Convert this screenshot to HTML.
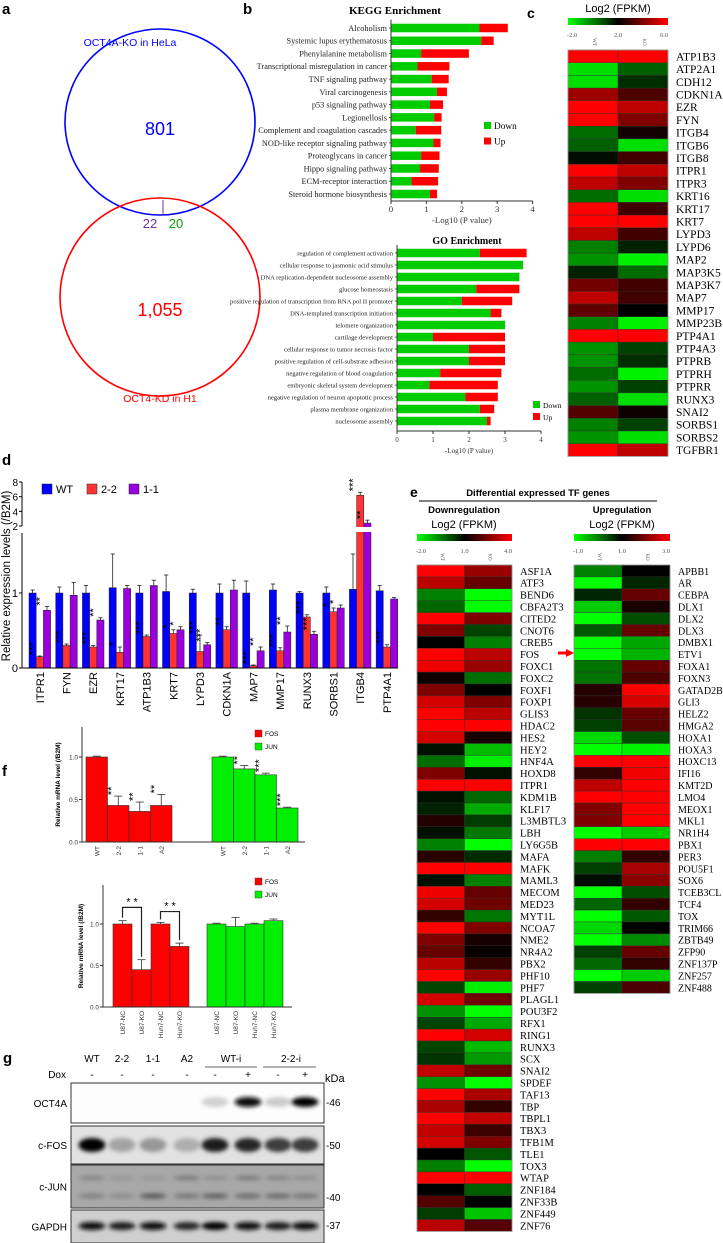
<!DOCTYPE html>
<html><head><meta charset="utf-8"><style>
body{margin:0;background:#fff}
svg{display:block}
.s{font-family:"Liberation Sans",sans-serif}
.r{font-family:"Liberation Serif",serif}
</style></head><body>
<svg id="fig" width="723" height="1243" viewBox="0 0 723 1243" xmlns="http://www.w3.org/2000/svg">
<defs>
<linearGradient id="cbar" x1="0" x2="1"><stop offset="0" stop-color="#00ff00"/><stop offset="0.5" stop-color="#000"/><stop offset="1" stop-color="#ff0000"/></linearGradient>
<filter id="blur" x="-50%" y="-100%" width="200%" height="300%"><feGaussianBlur stdDeviation="2"/></filter>
</defs>
<g id="panelA">
<text class="s" x="2" y="14" font-size="15" font-weight="bold">a</text>
<ellipse cx="160" cy="122" rx="95" ry="93" fill="none" stroke="#0000ff" stroke-width="1.6"/>
<ellipse cx="160" cy="297" rx="100" ry="99" fill="none" stroke="#ff0000" stroke-width="1.6"/>
<line x1="163" y1="200" x2="163" y2="215" stroke="#7030a0" stroke-width="1"/>
<text class="s" x="130" y="46" font-size="10.5" fill="#0000ff" text-anchor="middle">OCT4A-KO in HeLa</text>
<text class="s" x="160" y="135" font-size="18" fill="#0000ff" text-anchor="middle">801</text>
<text class="s" x="150" y="228" font-size="13" fill="#7030a0" text-anchor="middle">22</text>
<text class="s" x="176" y="228" font-size="13" fill="#00a000" text-anchor="middle">20</text>
<text class="s" x="160" y="316" font-size="18" fill="#ff0000" text-anchor="middle">1,055</text>
<text class="s" x="160" y="402" font-size="10.5" fill="#ff0000" text-anchor="middle">OCT4-KD in H1</text>
</g>
<text class="s" x="243" y="14" font-size="15" font-weight="bold">b</text>
<text class="r" x="395" y="14" font-size="11" font-weight="bold" text-anchor="middle">KEGG Enrichment</text>
<text class="r" x="467" y="244" font-size="10" font-weight="bold" text-anchor="middle">GO Enrichment</text>
<g id="kegg"></g>
<g id="go"></g>
<text class="s" x="527" y="18" font-size="14" font-weight="bold">c</text>
<g id="heatC"></g>
<text class="s" x="2" y="465" font-size="15" font-weight="bold">d</text>
<g id="barD"></g>
<text class="s" x="410" y="497" font-size="14" font-weight="bold">e</text>
<text class="s" x="538" y="496" font-size="9.5" font-weight="bold" text-anchor="middle">Differential expressed TF genes</text>
<line x1="419" y1="501" x2="657" y2="501" stroke="#000" stroke-width="1"/>
<text class="s" x="464" y="513" font-size="9.5" font-weight="bold" text-anchor="middle">Downregulation</text>
<text class="s" x="622" y="513" font-size="9.5" font-weight="bold" text-anchor="middle">Upregulation</text>
<g id="heatDown"></g>
<g id="heatUp"></g>
<path d="M574 653 L566 649 L566 651.5 L558 651.5 L558 654.5 L566 654.5 L566 657 Z" fill="#ff0000"/>
<text class="s" x="2" y="776" font-size="15" font-weight="bold">f</text>
<g id="barF1"></g>
<g id="barF2"></g>
<text class="s" x="3" y="1063" font-size="15" font-weight="bold">g</text>
<g id="blot"></g>
</svg>
<script>
// ---------- data ----------
const keggTerms=["Alcoholism","Systemic lupus erythematosus","Phenylalanine metabolism","Transcriptional misregulation in cancer","TNF signaling pathway","Viral carcinogenesis","p53 signaling pathway","Legionellosis","Complement and coagulation cascades","NOD-like receptor signaling pathway","Proteoglycans in cancer","Hippo signaling pathway","ECM-receptor interaction","Steroid hormone biosynthesis"];
const keggDown=[2.5,2.55,0.85,0.75,1.15,1.3,1.1,1.22,0.7,1.2,0.85,0.82,0.58,1.1];
const keggUp=[0.8,0.35,1.35,0.9,0.48,0.28,0.37,0.21,0.72,0.2,0.52,0.53,0.75,0.2];
const goTerms=["regulation of complement activation","cellular response to jasmonic acid stimulus","DNA replication-dependent nucleosome assembly","glucose homeostasis","positive regulation of transcription from RNA pol II promoter","DNA-templated transcription initiation","telomere organization","cartilage development","cellular response to tumor necrosis factor","positive regulation of cell-substrate adhesion","negative regulation of blood coagulation","embryonic skeletal system development","negative regulation of neuron apoptotic process","plasma membrane organization","nucleosome assembly"];
const goDown=[2.3,3.5,3.4,2.2,1.8,2.6,3.0,1.0,2.0,2.0,1.2,0.9,1.9,2.3,2.5];
const goUp=[1.3,0,0,1.2,1.4,0.3,0,2.0,1.0,1.0,1.7,1.9,0.9,0.4,0.1];
const axisTicks=[0,1,2,3,4];

const cGenes=["ATP1B3","ATP2A1","CDH12","CDKN1A","EZR","FYN","ITGB4","ITGB6","ITGB8","ITPR1","ITPR3","KRT16","KRT17","KRT7","LYPD3","LYPD6","MAP2","MAP3K5","MAP3K7","MAP7","MMP17","MMP23B","PTP4A1","PTP4A3","PTPRB","PTPRH","PTPRR","RUNX3","SNAI2","SORBS1","SORBS2","TGFBR1"];
const cWT=[6,-1.5,-1.5,4.5,6,6,0.3,0.5,1.8,6,5,0.3,6,6,5,0,-0.3,1.5,3.8,5,3.5,0,6,-0.3,-0.3,0.3,-0.3,0.5,3.3,0,-0.3,6];
const cKO=[6,0.5,1.3,3.2,5,4,2.3,-1.5,3,5,4,-1.5,3,6,3,1.5,-1.8,0.3,3,3,2,-1.8,6,1,1.3,-1.8,1,-1.5,2.2,1,-1.5,5];
const cScale=["-2.0","2.0","6.0"];

const dGenes=["ITPR1","FYN","EZR","KRT17","ATP1B3","KRT7","LYPD3","CDKN1A","MAP7","MMP17","RUNX3","SORBS1","ITGB4","PTP4A1"];
const dWT=[1.0,1.0,1.0,1.07,1.0,1.02,1.0,1.0,1.0,1.04,1.0,1.0,1.05,1.03];
const dKO22=[0.15,0.3,0.28,0.21,0.42,0.46,0.22,0.51,0.03,0.23,0.68,0.75,6.2,0.28];
const dKO11=[0.77,0.97,0.64,1.06,1.1,0.51,0.31,1.04,0.23,0.48,0.45,0.8,2.4,0.92];
const dErrWT=[0.04,0.08,0.1,0.45,0.1,0.22,0.05,0.12,0.16,0.08,0.02,0.08,0.47,0.07];
const dErr22=[0.01,0.02,0.02,0.07,0.02,0.05,0.22,0.04,0.01,0.04,0.03,0.05,0.4,0.03];
const dErr11=[0.05,0.17,0.03,0.04,0.07,0.04,0.03,0.13,0.05,0.08,0.04,0.04,0.4,0.02];
const dStar22=[3,3,3,1,3,1,3,2,3,3,3,1,3,3];
const dStar11=[2,0,2,0,0,1,3,0,2,2,3,1,2,0];
const dTicksLow=[0,1];
const dTicksHigh=[2,4,6,8];

const downGenes=["ASF1A","ATF3","BEND6","CBFA2T3","CITED2","CNOT6","CREB5","FOS","FOXC1","FOXC2","FOXF1","FOXP1","GLIS3","HDAC2","HES2","HEY2","HNF4A","HOXD8","ITPR1","KDM1B","KLF17","L3MBTL3","LBH","LY6G5B","MAFA","MAFK","MAML3","MECOM","MED23","MYT1L","NCOA7","NME2","NR4A2","PBX2","PHF10","PHF7","PLAGL1","POU3F2","RFX1","RING1","RUNX3","SCX","SNAI2","SPDEF","TAF13","TBP","TBPL1","TBX3","TFB1M","TLE1","TOX3","WTAP","ZNF184","ZNF33B","ZNF449","ZNF76"];
const downWT=[4,3.2,-0.5,-0.2,4,2.5,1,4,3.8,1.2,2.5,3.5,4,4,3.5,0.8,-0.3,2.5,4,0.8,0.6,1.4,0.8,-0.5,1.5,4,0.8,3.8,3.5,1.6,4,2.5,2.2,3.2,4,0.2,3.5,-0.7,0.2,4,0.2,0.4,3.3,-0.7,4,3,4,3.3,3.5,1,-0.5,4,1,2,0.3,3.2];
const downKO=[2.8,2.2,-2,-2,2.5,0.2,-0.5,3.2,2.8,-0.3,1,2.5,3.2,4,1.3,-1.2,-1.8,0.8,4,-0.2,-1,0.3,-0.4,-2,0.5,4,-0.5,2.2,2.3,-0.4,2.5,1.3,1.1,1.6,2.8,-1.8,2.3,-2,-1,3.5,-1.2,-0.8,2.3,-2,3,1.6,3.3,1.7,2.5,0,-2,4,-0.1,1,-1.3,2];
const downScale=["-2.0","1.0","4.0"];
const upGenes=["APBB1","AR","CEBPA","DLX1","DLX2","DLX3","DMBX1","ETV1","FOXA1","FOXN3","GATAD2B","GLI3","HELZ2","HMGA2","HOXA1","HOXA3","HOXC13","IFI16","KMT2D","LMO4","MEOX1","MKL1","NR1H4","PBX1","PER3","POU5F1","SOX6","TCEB3CL","TCF4","TOX","TRIM66","ZBTB49","ZFP90","ZNF137P","ZNF257","ZNF488"];
const upWT=[0,-1,0.7,-0.6,-1,0.3,-1,-1,0.1,0.1,1.3,1.3,0.6,0.5,-0.7,-1,3,1.4,2.5,3,2,2,-1,3,0,0.5,0.9,-1,0.2,-1,-0.7,-1,0.5,0.2,-1,0.5];
const upKO=[1,0.7,1.8,1.2,0.4,1.8,-0.3,-0.4,1.8,1.6,3,2.7,1.8,1.7,0.4,-0.9,3,2.9,3,3,3,3,-0.6,3,1.4,2.3,2.1,0.4,1.4,0.3,1,-0.1,1.8,1.4,-0.6,1.6];
const upScale=["-1.0","1.0","3.0"];

const f1Labels=["WT","2-2","1-1","A2"];
const f1Fos=[1.0,0.43,0.36,0.43];
const f1Jun=[1.0,0.86,0.79,0.40];
const f1FosErr=[0.01,0.11,0.11,0.13];
const f1JunErr=[0.01,0.04,0.02,0.01];
const f1FosStar=["","**","**","**"];
const f1JunStar=["","**","***","***"];
const f2Labels=["U87-NC","U87-KO","Huh7-NC","Huh7-KO"];
const f2Fos=[1.0,0.45,1.0,0.73];
const f2Jun=[1.0,0.97,1.0,1.04];
const f2FosErr=[0.04,0.12,0.02,0.04];
const f2JunErr=[0.01,0.11,0.01,0.02];
const fTicks=[0,0.5,1.0];

const doxSigns=["-","-","-","-","-","+","-","+"];
const oct4=[0,0,0,0,0.1,0.95,0.12,1.0];
const cfos=[1.0,0.3,0.35,0.25,0.9,0.85,0.75,0.75];
const cjunUpper=[0.45,0.35,0.35,0.5,0.4,0.5,0.45,0.4];
const cjunLower=[0.45,0.4,0.65,0.5,0.6,0.55,0.55,0.5];
const gapdh=[0.95,0.9,0.95,0.85,1.0,0.95,0.9,0.95];
const blotRows=["OCT4A","c-FOS","c-JUN","GAPDH"];
const kdaLabels=["-46","-50","-40","-37"];

// ---------- helpers ----------
const NS="http://www.w3.org/2000/svg";
function mk(parent,tag,attrs,text){const e=document.createElementNS(NS,tag);for(const k in attrs)e.setAttribute(k,attrs[k]);if(text!==undefined)e.textContent=text;parent.appendChild(e);return e;}
function heatColor(v,lo,hi){let t=(v-lo)/(hi-lo);t=Math.max(0,Math.min(1,t));if(t<0.5){return "rgb(0,"+Math.round(255*(1-2*t))+",0)";}return "rgb("+Math.round(255*(2*t-1))+",0,0)";}

// ---------- enrichment bars ----------
function enrich(gid,terms,down,up,x0,px,y0,dy,bh,fs,axY,legX,legY,legGap){
  const g=document.getElementById(gid);
  const xs=v=>x0+v*px;
  terms.forEach((t,i)=>{
    const y=y0+i*dy;
    let r=mk(g,'rect',{x:xs(0),y:y-bh/2,width:down[i]*px,height:bh,fill:'#00cc00'});
    
    r=mk(g,'rect',{x:xs(down[i]),y:y-bh/2,width:up[i]*px,height:bh,fill:'#ff0000'});
    
    const tx=mk(g,'text',{x:x0-4,y:y+fs*0.35,'font-size':fs,'text-anchor':'end','class':'r',fill:'#222'},t);
    
    mk(g,'line',{x1:x0-2,x2:x0,y1:y,y2:y,stroke:'#333','stroke-width':0.8});
  });
  mk(g,'line',{x1:x0,x2:x0,y1:y0-dy/2-2,y2:axY,stroke:'#333','stroke-width':1});
  mk(g,'line',{x1:x0,x2:xs(4),y1:axY,y2:axY,stroke:'#333','stroke-width':1});
  axisTicks.forEach(v=>{mk(g,'line',{x1:xs(v),x2:xs(v),y1:axY,y2:axY+3,stroke:'#333'});
    const t=mk(g,'text',{x:xs(v),y:axY+11,'font-size':fs+0.5,'text-anchor':'middle','class':'r',fill:'#333'},v);
    });
  const xl=mk(g,'text',{x:xs(2),y:axY+22,'font-size':fs+0.5,'text-anchor':'middle','class':'r',fill:'#333'},'-Log10 (P value)');
  
  [['#00cc00','Down'],['#ff0000','Up']].forEach((d,i)=>{
    const r=mk(g,'rect',{x:legX,y:legY+i*legGap-4,width:7,height:7,fill:d[0]});
    
    const t=mk(g,'text',{x:legX+10,y:legY+i*legGap+3,'font-size':fs+1,'class':'r'},d[1]);
    
  });
}
enrich('kegg',keggTerms,keggDown,keggUp,391,35.4,28,12.77,8.5,8.3,201,484,126,15.5);
enrich('go',goTerms,goDown,goUp,397,36,253,12,8.5,6.6,431,533,405,12);

// ---------- heatmaps ----------
function heat(gid,genes,wt,ko,lo,hi,x,w,y0,rh,scale,titleX,titleY,labFs){
  const g=document.getElementById(gid);
  const t=mk(g,'text',{x:titleX,y:titleY,'font-size':11,'text-anchor':'middle','class':'s'},'Log2 (FPKM)');
  
  const cb=mk(g,'rect',{x:x,y:titleY+6,width:w*2,height:7,fill:'url(#cbar)'});
  
  scale.forEach((s,i)=>{const tt=mk(g,'text',{x:x+4+i*(w*2-8)/2,y:titleY+25,'font-size':6.5,'text-anchor':'middle','class':'r',fill:'#555'},s);
    });
  ['WT','KO'].forEach((s,i)=>{const tt=mk(g,'text',{x:0,y:0,'font-size':5,'text-anchor':'middle','class':'r',fill:'#555',transform:'translate('+(x+w/2+i*w)+','+(y0-8)+') rotate(90)'},s);
    });
  genes.forEach((gn,i)=>{
    const y=y0+i*rh;
    let r=mk(g,'rect',{x:x,y:y,width:w,height:rh,fill:heatColor(wt[i],lo,hi),stroke:'#333','stroke-width':0.4});
    
    r=mk(g,'rect',{x:x+w,y:y,width:w,height:rh,fill:heatColor(ko[i],lo,hi),stroke:'#333','stroke-width':0.4});
    
    const tx=mk(g,'text',{x:x+2*w+8,y:y+rh*0.82,'font-size':labFs,'class':'r'},gn);
    
  });
  mk(g,'rect',{x:x,y:y0,width:2*w,height:genes.length*rh,fill:'none',stroke:'#999','stroke-width':0.8});
}
heat('heatC',cGenes,cWT,cKO,-2,6,568,50,50,12.7,cScale,618,12,11.5);
heat('heatDown',downGenes,downWT,downKO,-2,4,417,47.5,565,11.9,downScale,464,528,10.5);
heat('heatUp',upGenes,upWT,upKO,-1,3,574,48,565,11.9,upScale,622,528,10);

// ---------- panel d ----------
(function(){
  const g=document.getElementById('barD');
  const ax=22,x0=29,gw=26.7,bw=7.2;
  const yLow=v=>668-75*v, yHigh=v=>526-(v-2)*7.33;
  const yv=v=>v<=1.8?yLow(v):yHigh(v);
  const series=[[dWT,dErrWT,'#0000ff',null],[dKO22,dErr22,'#ff3333',dStar22],[dKO11,dErr11,'#9900dd',dStar11]];
  dGenes.forEach((gn,i)=>{
    series.forEach((s,j)=>{
      const v=s[0][i],bx=x0+i*gw+j*bw;
      let r=mk(g,'rect',{x:bx,y:yv(v),width:bw,height:668-yv(v),fill:s[2],stroke:'#222','stroke-width':0.5});
      
      if(v>1.8){mk(g,'rect',{x:bx-1,y:527,width:bw+2,height:5,fill:'#fff'});}
      const te=yv(v+s[1][i]);
      mk(g,'line',{x1:bx+bw/2,x2:bx+bw/2,y1:yv(v),y2:te,stroke:'#222','stroke-width':0.8});
      mk(g,'line',{x1:bx+1.5,x2:bx+bw-1.5,y1:te,y2:te,stroke:'#222','stroke-width':0.8});
      if(s[3]&&s[3][i]>0){const st=mk(g,'text',{x:0,y:0,'font-size':11,'class':'s','text-anchor':'start',transform:'translate('+(bx+bw/2-3.5)+','+(te-1)+') rotate(-90)'},'*'.repeat(s[3][i]));
        }
    });
    const lb=mk(g,'text',{x:0,y:0,'font-size':11,'class':'s','text-anchor':'end',transform:'translate('+(x0+i*gw+bw*1.5+4)+',672) rotate(-90)'},gn);
    
  });
  mk(g,'line',{x1:ax,x2:ax,y1:668,y2:533,stroke:'#000','stroke-width':1});
  mk(g,'line',{x1:ax,x2:ax,y1:526,y2:482,stroke:'#000','stroke-width':1});
  mk(g,'line',{x1:ax,x2:398,y1:668,y2:668,stroke:'#000','stroke-width':1});
  dTicksLow.forEach(v=>{mk(g,'line',{x1:ax-3,x2:ax,y1:yLow(v),y2:yLow(v),stroke:'#000'});
    const t=mk(g,'text',{x:ax-4,y:yLow(v)+4,'font-size':11,'class':'s','text-anchor':'end'},v);});
  dTicksHigh.forEach(v=>{mk(g,'line',{x1:ax-3,x2:ax,y1:yHigh(v),y2:yHigh(v),stroke:'#000'});
    const t=mk(g,'text',{x:ax-4,y:yHigh(v)+4,'font-size':10,'class':'s','text-anchor':'end'},v);});
  const yt=mk(g,'text',{x:0,y:0,'font-size':11.5,'class':'s','text-anchor':'middle',transform:'translate(10,576) rotate(-90)'},'Relative expression levels (/B2M)');
  
  [['#0000ff','WT',42],['#ff3333','2-2',87],['#9900dd','1-1',129]].forEach(d=>{
    const r=mk(g,'rect',{x:d[2],y:484,width:10,height:10,fill:d[0],stroke:'#222','stroke-width':0.5});
    const t=mk(g,'text',{x:d[2]+14,y:493,'font-size':11,'class':'s'},d[1]);});
})();

// ---------- panel f ----------
function fchart(gid,labels,fos,jun,fe,je,fstar,jstar,ax,y0,ppu,top,rx,gx,bw,axEnd,legY,legGap,titleX,brackets){
  const g=document.getElementById(gid);
  const y=v=>y0-v*ppu;
  [[fos,fe,'#ff0000',rx,fstar],[jun,je,'#00ee00',gx,jstar]].forEach(s=>{
    s[0].forEach((v,i)=>{
      const bx=s[3]+i*bw;
      const r=mk(g,'rect',{x:bx,y:y(v),width:bw,height:v*ppu,fill:s[2],stroke:'#333','stroke-width':0.6});
      
      const te=y(v+s[1][i]);
      mk(g,'line',{x1:bx+bw/2,x2:bx+bw/2,y1:y(v),y2:te,stroke:'#333','stroke-width':0.8});
      mk(g,'line',{x1:bx+bw/2-4,x2:bx+bw/2+4,y1:te,y2:te,stroke:'#333','stroke-width':0.8});
      if(s[4]&&s[4][i]){const st=mk(g,'text',{x:0,y:0,'font-size':11,'class':'s',transform:'translate('+(bx+bw/2-3.5)+','+(te-1)+') rotate(-90)'},s[4][i]);
        }
      const lb=mk(g,'text',{x:0,y:0,'font-size':6.5,'class':'s','text-anchor':'end',fill:'#333',transform:'translate('+(bx+bw/2+2.5)+','+(y0+4)+') rotate(-90)'},labels[i]);
      
    });
  });
  mk(g,'line',{x1:ax,x2:ax,y1:top,y2:y0,stroke:'#333','stroke-width':1});
  mk(g,'line',{x1:ax,x2:axEnd,y1:y0,y2:y0,stroke:'#333','stroke-width':1});
  fTicks.forEach(v=>{mk(g,'line',{x1:ax-3,x2:ax,y1:y(v),y2:y(v),stroke:'#333'});
    const t=mk(g,'text',{x:ax-4,y:y(v)+2.5,'font-size':6.5,'class':'s','text-anchor':'end',fill:'#333'},v.toFixed(1));});
  const yt=mk(g,'text',{x:0,y:0,'font-size':6.5,'font-weight':'bold','class':'s','text-anchor':'middle',transform:'translate('+titleX+','+((top+y0)/2)+') rotate(-90)'},'Relative mRNA level (/B2M)');
  
  [['#ff0000','FOS'],['#00ee00','JUN']].forEach((d,i)=>{
    const r=mk(g,'rect',{x:255,y:legY+i*legGap-6,width:7,height:7,fill:d[0],stroke:'#333','stroke-width':0.4});
    const t=mk(g,'text',{x:265,y:legY+i*legGap,'font-size':6.5,'class':'s'},d[1]);});
  if(brackets){brackets.forEach(b=>{
    const xa=rx+b[0]*bw+bw/2, xb=rx+b[1]*bw+bw/2, ya=y(fos[b[0]]+fe[b[0]])-3, yb=y(fos[b[1]]+fe[b[1]])-3, yt2=y(b[2]);
    mk(g,'path',{d:'M'+xa+' '+ya+' V'+yt2+' H'+xb+' V'+yb,fill:'none',stroke:'#222','stroke-width':1.2});
    const st=mk(g,'text',{x:(xa+xb)/2,y:yt2-2,'font-size':11,'class':'s','text-anchor':'middle'},'* *');
  });}
}
fchart('barF1',f1Labels,f1Fos,f1Jun,f1FosErr,f1JunErr,f1FosStar,f1JunStar,82,842,85,727,86,212,21.5,305,736,13,60,null);
fchart('barF2',f2Labels,f2Fos,f2Jun,f2FosErr,f2JunErr,null,null,103,1007,83,885,113,207,19,292,884,13,83,[[0,1,1.2],[2,3,1.15]]);

// ---------- panel g ----------
(function(){
  const g=document.getElementById('blot');
  const cx=[92,122,153,187,215,248,278,305];
  ["WT","2-2","1-1","A2"].forEach((s,i)=>{const t=mk(g,'text',{x:cx[i],y:1062,'font-size':10,'class':'s','text-anchor':'middle'},s);});
  [["WT-i",231,205,257],["2-2-i",291,263,316]].forEach(d=>{const t=mk(g,'text',{x:d[1],y:1062,'font-size':10,'class':'s','text-anchor':'middle'},d[0]);
    mk(g,'line',{x1:d[2],x2:d[3],y1:1067,y2:1067,stroke:'#333','stroke-width':0.8});});
  const dx=mk(g,'text',{x:66,y:1078,'font-size':10,'class':'s','text-anchor':'end'},'Dox');
  doxSigns.forEach((s,i)=>{const t=mk(g,'text',{x:cx[i],y:1078,'font-size':10,'class':'s','text-anchor':'middle'},s);});
  const kd=mk(g,'text',{x:325,y:1082,'font-size':11,'class':'s'},'kDa');
  const boxes=[[1083,40,'#fdfdfd'],[1126,38,'#e2e2e2'],[1165,43,'#a8a8a8'],[1210,33,'#cfcfcf']];
  const kdaY=[1102,1145,1197,1225];
  boxes.forEach((b,k)=>{
    const r=mk(g,'rect',{x:71,y:b[0],width:253,height:b[1],fill:b[2],stroke:'#333','stroke-width':1});
    
    const t=mk(g,'text',{x:67,y:b[0]+b[1]/2+4,'font-size':10,'class':'s','text-anchor':'end'},blotRows[k]);
    const kt=mk(g,'text',{x:326,y:kdaY[k]+4,'font-size':10,'class':'s'},kdaLabels[k]);
  });
  function band(arr,yc,h,name){arr.forEach((v,i)=>{if(v<=0)return;const gr=Math.round(230-225*v);
    const e=mk(g,'ellipse',{cx:cx[i],cy:yc,rx:13.5,ry:h,fill:'rgb('+gr+','+gr+','+gr+')',filter:'url(#blur)'});
    });}
  band(oct4,1102,5,'oct4a-band');
  band(cfos,1145,7,'cfos-band');
  band(cjunUpper,1178,2,'cjun-band-upper');
  band(cjunLower,1196,2.5,'cjun-band-lower');
  band(gapdh,1226,4,'gapdh-band');
})();
</script>
</body></html>
